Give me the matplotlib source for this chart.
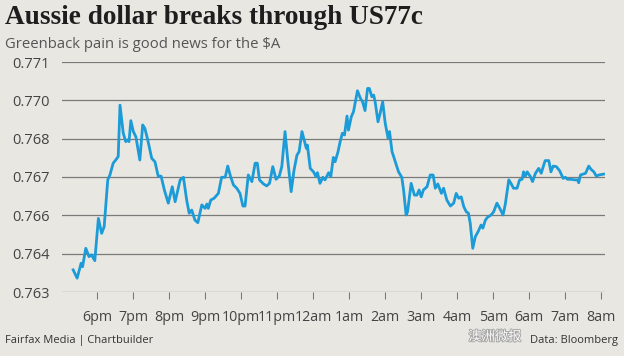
import numpy as np
import matplotlib
matplotlib.use("Agg")
from matplotlib import pyplot as plt
import matplotlib.patheffects as pe

# hours after 6pm, AUD/USD
hours = [-0.66, -0.55, -0.44, -0.40, -0.31, -0.22, -0.15, -0.06, 0.04, 0.13,
         0.20, 0.30, 0.36, 0.45, 0.52, 0.59, 0.64, 0.73, 0.80, 0.85,
         0.89, 0.94, 1.01, 1.08, 1.19, 1.27, 1.33, 1.41, 1.52, 1.61,
         1.70, 1.78, 1.87, 1.98, 2.09, 2.17, 2.31, 2.40, 2.49, 2.56,
         2.63, 2.72, 2.80, 2.91, 3.00, 3.05, 3.09, 3.16, 3.25, 3.37,
         3.46, 3.56, 3.63, 3.71, 3.79, 3.88, 3.97, 4.05, 4.11, 4.20,
         4.30, 4.39, 4.45, 4.51, 4.62, 4.71, 4.79, 4.88, 4.97, 5.06,
         5.13, 5.22, 5.29, 5.39, 5.47, 5.55, 5.61, 5.69, 5.75, 5.81,
         5.84, 5.92, 6.01, 6.08, 6.12, 6.19, 6.27, 6.33, 6.43, 6.49,
         6.56, 6.61, 6.69, 6.75, 6.81, 6.87, 6.94, 6.98, 7.06, 7.12,
         7.23, 7.31, 7.37, 7.44, 7.51, 7.56, 7.63, 7.68, 7.72, 7.80,
         7.86, 7.93, 8.00, 8.08, 8.12, 8.19, 8.28, 8.37, 8.46, 8.51,
         8.58, 8.62, 8.72, 8.81, 8.88, 8.94, 9.00, 9.06, 9.16, 9.25,
         9.33, 9.39, 9.46, 9.56, 9.62, 9.71, 9.81, 9.90, 9.97, 10.04,
         10.11, 10.18, 10.25, 10.31, 10.36, 10.43, 10.50, 10.59, 10.66, 10.71,
         10.78, 10.84, 10.94, 11.01, 11.10, 11.18, 11.27, 11.33, 11.43, 11.49,
         11.56, 11.66, 11.73, 11.80, 11.84, 11.89, 11.94, 12.03, 12.09, 12.17,
         12.26, 12.33, 12.40, 12.44, 12.54, 12.60, 12.66, 12.75, 12.84, 12.94,
         13.00, 13.06, 13.16, 13.25, 13.34, 13.37, 13.42, 13.56, 13.65, 13.71,
         13.79, 13.86, 13.93, 14.06]
rate = [0.76377, 0.76348, 0.76400, 0.76388, 0.76452, 0.76423, 0.76429, 0.76409, 0.76556, 0.76504,
        0.76527, 0.76690, 0.76707, 0.76748, 0.76759, 0.76771, 0.76950, 0.76852, 0.76823, 0.76829,
        0.76823, 0.76896, 0.76858, 0.76840, 0.76759, 0.76881, 0.76869, 0.76829, 0.76765, 0.76753,
        0.76703, 0.76703, 0.76655, 0.76609, 0.76666, 0.76614, 0.76690, 0.76699, 0.76620, 0.76574,
        0.76585, 0.76550, 0.76541, 0.76603, 0.76591, 0.76606, 0.76591, 0.76620, 0.76626, 0.76643,
        0.76699, 0.76699, 0.76738, 0.76701, 0.76672, 0.76661, 0.76643, 0.76599, 0.76599, 0.76707,
        0.76684, 0.76748, 0.76748, 0.76690, 0.76676, 0.76669, 0.76678, 0.76736, 0.76692, 0.76703,
        0.76736, 0.76858, 0.76765, 0.76649, 0.76724, 0.76776, 0.76788, 0.76858, 0.76829, 0.76800,
        0.76811, 0.76730, 0.76718, 0.76701, 0.76715, 0.76678, 0.76699, 0.76690, 0.76715, 0.76701,
        0.76768, 0.76753, 0.76788, 0.76823, 0.76852, 0.76846, 0.76912, 0.76863, 0.76910, 0.76927,
        0.77000, 0.76974, 0.76962, 0.76931, 0.77008, 0.77008, 0.76979, 0.76985, 0.76962, 0.76892,
        0.76922, 0.76962, 0.76887, 0.76835, 0.76858, 0.76788, 0.76753, 0.76718, 0.76699, 0.76655,
        0.76568, 0.76579, 0.76678, 0.76637, 0.76637, 0.76655, 0.76631, 0.76655, 0.76666, 0.76707,
        0.76707, 0.76661, 0.76676, 0.76643, 0.76661, 0.76620, 0.76599, 0.76609, 0.76643, 0.76626,
        0.76631, 0.76597, 0.76579, 0.76574, 0.76539, 0.76452, 0.76492, 0.76513, 0.76533, 0.76522,
        0.76550, 0.76560, 0.76568, 0.76579, 0.76609, 0.76591, 0.76568, 0.76603, 0.76690, 0.76678,
        0.76661, 0.76661, 0.76690, 0.76692, 0.76718, 0.76703, 0.76718, 0.76701, 0.76684, 0.76713,
        0.76730, 0.76713, 0.76742, 0.76757, 0.76757, 0.76718, 0.76738, 0.76736, 0.76722, 0.76695,
        0.76699, 0.76692, 0.76692, 0.76690, 0.76690, 0.76680, 0.76707, 0.76713, 0.76738, 0.76727,
        0.76718, 0.76703, 0.76707, 0.76710]

hour_labels = ["6pm", "7pm", "8pm", "9pm", "10pm", "11pm", "12am", "1am",
               "2am", "3am", "4am", "5am", "6am", "7am", "8am"]
y_ticks = np.linspace(0.763, 0.771, 7)

bg = "#e9e7e2"
grid_c = "#7a7a7a"
text_c = "#444444"

fig = plt.figure(figsize=(6.24, 3.56), dpi=100, facecolor=bg)
ax = fig.add_axes([62 / 624, 1 - 292 / 356, (605 - 62) / 624, 230 / 356])
ax.set_facecolor(bg)

for y in y_ticks:
    ax.axhline(y, color=grid_c, lw=0.9, zorder=1)
ax.plot(hours, rate, color="#1b9bd7", lw=2.0, solid_joinstyle="round", zorder=3)

ax.set_xlim(-0.97, 14.1)
ax.set_ylim(0.763, 0.771)
for s in ax.spines.values():
    s.set_visible(False)

ax.set_yticks(y_ticks)
ax.set_yticklabels(["%.3f" % v for v in y_ticks])
ax.tick_params(axis="y", length=0, pad=9, labelsize=10.5, labelcolor=text_c)
ax.set_xticks(range(len(hour_labels)))
ax.set_xticklabels(hour_labels)
ax.tick_params(axis="x", length=5, width=0.8, color=grid_c, pad=8,
               labelsize=10.3, labelcolor=text_c)
for lab in ax.get_xticklabels() + ax.get_yticklabels():
    lab.set_family("Open Sans")

fig.text(5 / 624, 1 - 18 / 356, "Aussie dollar breaks through US77c",
         family="Liberation Serif", weight="bold", fontsize=19.6,
         color="#1e1e1e", va="center")
fig.text(5 / 624, 1 - 44 / 356, "Greenback pain is good news for the $A",
         family="Open Sans", fontsize=10.7, color="#555555", va="center")
fig.text(5 / 624, 1 - 340 / 356, "Fairfax Media | Chartbuilder",
         family="Open Sans", fontsize=8, color="#333333", va="center")
fig.text(618 / 624, 1 - 340 / 356, "Data: Bloomberg",
         family="Open Sans", fontsize=8, color="#333333", va="center", ha="right")

# watermark, kept clear of the hour labels and the source note
fig.text(495 / 624, 1 - 337 / 356, "澳洲微报", family=["Noto Sans CJK SC", "DejaVu Sans"],
         fontsize=9.5, color="white", alpha=0.95, va="center", ha="center",
         path_effects=[pe.withStroke(linewidth=1.3, foreground="#a0a0a0")])

plt.savefig("out.png", dpi=100, facecolor=bg)
